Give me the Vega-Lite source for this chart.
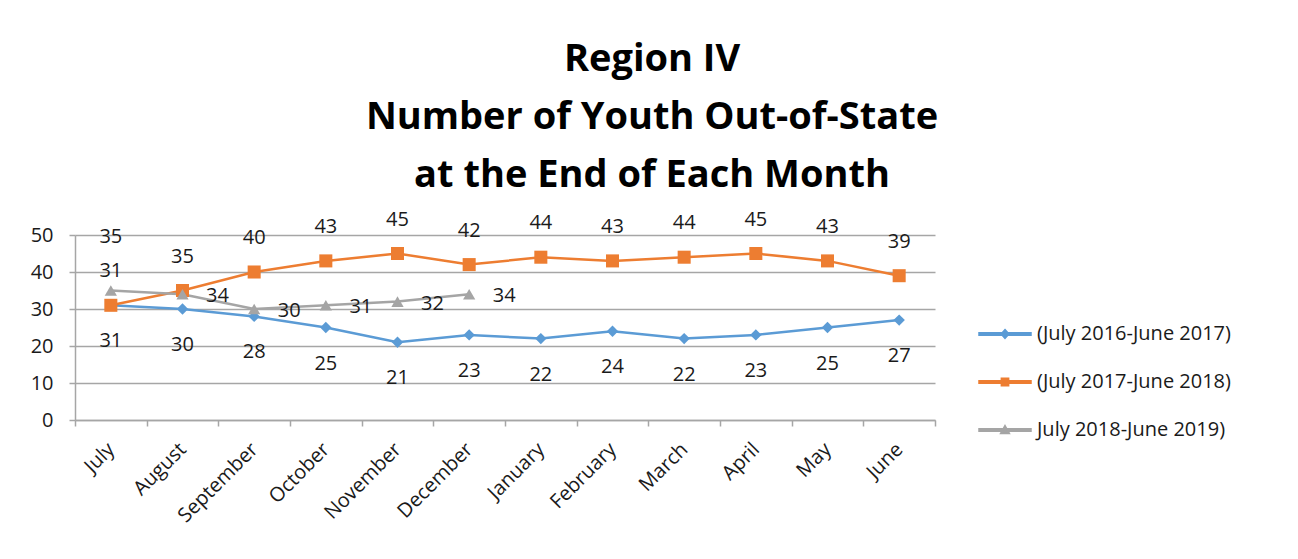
{
  "$schema": "https://vega.github.io/schema/vega-lite/v6.json",
  "autosize": "none",
  "width": 860,
  "height": 185,
  "padding": {"left": 75, "top": 235, "right": 363, "bottom": 139},
  "background": "white",
  "title": {
    "text": ["Region IV", "Number of Youth Out-of-State", "at the End of Each Month"],
    "font": "Open Sans",
    "fontSize": 38,
    "fontWeight": "bold",
    "color": "#000000",
    "lineHeight": 58,
    "anchor": "middle",
    "dx": 147,
    "offset": 15
  },
  "config": {
    "view": {"stroke": null},
    "font": "Open Sans",
    "axis": {
      "labelFont": "Open Sans",
      "labelFontSize": 20,
      "labelColor": "#1a1a1a",
      "domainColor": "#a6a6a6",
      "domainWidth": 1.5,
      "tickColor": "#a6a6a6",
      "tickWidth": 1.5,
      "gridColor": "#a6a6a6",
      "gridWidth": 1.5,
      "title": null
    }
  },
  "data": {
    "values": [
      {"Month": "July", "Series": "(July 2016-June 2017)", "Value": 31},
      {"Month": "August", "Series": "(July 2016-June 2017)", "Value": 30},
      {"Month": "September", "Series": "(July 2016-June 2017)", "Value": 28},
      {"Month": "October", "Series": "(July 2016-June 2017)", "Value": 25},
      {"Month": "November", "Series": "(July 2016-June 2017)", "Value": 21},
      {"Month": "December", "Series": "(July 2016-June 2017)", "Value": 23},
      {"Month": "January", "Series": "(July 2016-June 2017)", "Value": 22},
      {"Month": "February", "Series": "(July 2016-June 2017)", "Value": 24},
      {"Month": "March", "Series": "(July 2016-June 2017)", "Value": 22},
      {"Month": "April", "Series": "(July 2016-June 2017)", "Value": 23},
      {"Month": "May", "Series": "(July 2016-June 2017)", "Value": 25},
      {"Month": "June", "Series": "(July 2016-June 2017)", "Value": 27},
      {"Month": "July", "Series": "(July 2017-June 2018)", "Value": 31},
      {"Month": "August", "Series": "(July 2017-June 2018)", "Value": 35},
      {"Month": "September", "Series": "(July 2017-June 2018)", "Value": 40},
      {"Month": "October", "Series": "(July 2017-June 2018)", "Value": 43},
      {"Month": "November", "Series": "(July 2017-June 2018)", "Value": 45},
      {"Month": "December", "Series": "(July 2017-June 2018)", "Value": 42},
      {"Month": "January", "Series": "(July 2017-June 2018)", "Value": 44},
      {"Month": "February", "Series": "(July 2017-June 2018)", "Value": 43},
      {"Month": "March", "Series": "(July 2017-June 2018)", "Value": 44},
      {"Month": "April", "Series": "(July 2017-June 2018)", "Value": 45},
      {"Month": "May", "Series": "(July 2017-June 2018)", "Value": 43},
      {"Month": "June", "Series": "(July 2017-June 2018)", "Value": 39},
      {"Month": "July", "Series": "July 2018-June 2019)", "Value": 35},
      {"Month": "August", "Series": "July 2018-June 2019)", "Value": 34},
      {"Month": "September", "Series": "July 2018-June 2019)", "Value": 30},
      {"Month": "October", "Series": "July 2018-June 2019)", "Value": 31},
      {"Month": "November", "Series": "July 2018-June 2019)", "Value": 32},
      {"Month": "December", "Series": "July 2018-June 2019)", "Value": 34}
    ]
  },
  "encoding": {
    "x": {
      "field": "Month",
      "type": "nominal",
      "sort": ["July", "August", "September", "October", "November", "December", "January", "February", "March", "April", "May", "June"],
      "scale": {"type": "band", "paddingInner": 0, "paddingOuter": 0},
      "axis": {
        "labelAngle": -45,
        "labelAlign": "right",
        "labelBaseline": "middle",
        "labelPadding": 20,
        "tickBand": "extent",
        "tickSize": 6,
        "grid": false
      }
    },
    "y": {
      "field": "Value",
      "type": "quantitative",
      "scale": {"domain": [0, 50], "nice": false},
      "axis": {"values": [0, 10, 20, 30, 40, 50], "tickSize": 6, "labelPadding": 16, "grid": true}
    }
  },
  "layer": [
    {
      "mark": {"type": "line", "strokeWidth": 2.5},
      "encoding": {
        "color": {
          "field": "Series",
          "type": "nominal",
          "scale": {
            "domain": ["(July 2016-June 2017)", "(July 2017-June 2018)", "July 2018-June 2019)"],
            "range": ["#5B9BD5", "#ED7D31", "#A5A5A5"]
          },
          "legend": {
            "title": null,
            "orient": "none",
            "legendX": 903,
            "legendY": 72,
            "padding": 0,
            "labelFont": "Open Sans",
            "labelFontSize": 20,
            "labelColor": "#1a1a1a",
            "labelOffset": 5,
            "symbolType": "M-1,-0.045H1V0.045H-1Z",
            "symbolSize": 2704,
            "rowPadding": 11,
            "labelLimit": 300,
            "encode": {
              "symbols": {
                "update": {
                  "shape": {"signal": "datum.value === '(July 2016-June 2017)' ? 'M-1,-0.045H1V0.045H-1Z M0,-0.17L0.15,0L0,0.17L-0.15,0Z' : datum.value === '(July 2017-June 2018)' ? 'M-1,-0.045H1V0.045H-1Z M-0.14,-0.14H0.14V0.14H-0.14Z' : 'M-1,-0.045H1V0.045H-1Z M0,-0.17L0.17,0.13H-0.17Z'"},
                  "fill": {"scale": "color", "field": "value"},
                  "stroke": {"value": "transparent"},
                  "opacity": {"value": 1}
                }
              }
            }
          }
        }
      }
    },
    {
      "transform": [{"filter": "datum.Series === '(July 2016-June 2017)'"}],
      "mark": {"type": "point", "shape": "diamond", "filled": true, "opacity": 1, "size": 130, "color": "#5B9BD5"}
    },
    {
      "transform": [{"filter": "datum.Series === '(July 2017-June 2018)'"}],
      "mark": {"type": "point", "shape": "square", "filled": true, "opacity": 1, "size": 170, "color": "#ED7D31"}
    },
    {
      "transform": [{"filter": "datum.Series === 'July 2018-June 2019)'"}],
      "mark": {"type": "point", "shape": "triangle-up", "filled": true, "opacity": 1, "size": 150, "color": "#A5A5A5"}
    },
    {
      "transform": [{"filter": "datum.Series === '(July 2016-June 2017)'"}],
      "mark": {"type": "text", "font": "Open Sans", "fontSize": 20, "color": "#1a1a1a", "dy": 36},
      "encoding": {"text": {"field": "Value", "type": "quantitative"}}
    },
    {
      "transform": [{"filter": "datum.Series === '(July 2017-June 2018)'"}],
      "mark": {"type": "text", "font": "Open Sans", "fontSize": 20, "color": "#1a1a1a", "dy": -34},
      "encoding": {"text": {"field": "Value", "type": "quantitative"}}
    },
    {
      "transform": [{"filter": "datum.Series === 'July 2018-June 2019)' && datum.Month !== 'July'"}],
      "mark": {"type": "text", "font": "Open Sans", "fontSize": 20, "color": "#1a1a1a", "dx": 35, "dy": 2},
      "encoding": {"text": {"field": "Value", "type": "quantitative"}}
    },
    {
      "transform": [{"filter": "datum.Series === 'July 2018-June 2019)' && datum.Month === 'July'"}],
      "mark": {"type": "text", "font": "Open Sans", "fontSize": 20, "color": "#1a1a1a", "dy": -54},
      "encoding": {"text": {"field": "Value", "type": "quantitative"}}
    }
  ]
}
